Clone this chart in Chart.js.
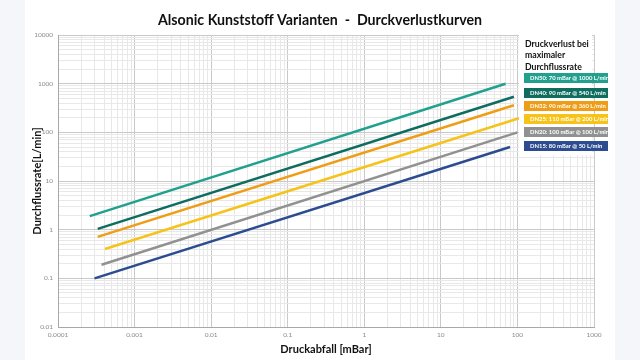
<!DOCTYPE html>
<html lang="de">
<head>
<meta charset="utf-8">
<script src="https://cdn.jsdelivr.net/npm/chart.js@4/dist/chart.umd.min.js"></script>
<style>
  body { margin: 0; background: #f4f6f9; }
  #rahmen { position: relative; width: 640px; height: 360px; }
  #legende {
    position: absolute; left: 519px; top: 35px; width: 73px; height: 120px;
    background: #fff; font-family: Lato, "Open Sans", sans-serif;
  }
  #legendeTitel {
    position: absolute; left: 6px; top: 3px; font-size: 8.7px; font-weight: bold;
    line-height: 11.3px; color: #111; white-space: nowrap;
  }
  .eintrag {
    position: absolute; left: 5px; width: 84px; height: 10px; color: #fff;
    font-size: 5.9px; font-weight: bold; line-height: 10px; padding-left: 6px;
    box-sizing: border-box; white-space: nowrap;
  }
</style>
</head>
<body>
<div id="rahmen">
  <canvas id="grafik" width="640" height="360"></canvas>
  <div id="legende">
    <div id="legendeTitel">Druckverlust bei<br>maximaler<br>Durchflussrate</div>
  </div>
</div>
<script>
const namen = ["DN50", "DN40", "DN32", "DN25", "DN20", "DN15"];
const farben = ["#22a08f", "#0f6d60", "#ef9d16", "#f6c31a", "#919191", "#2b4c8f"];

// Druckabfall [mBar] / Durchflussrate [L/min] am Anfang und Ende jeder Kurve
const startDruck = [0.00026, 0.00033, 0.00033, 0.00041, 0.00037, 0.0003];
const startFluss = [1.9, 1.04, 0.71, 0.4, 0.19, 0.1];
const endDruck = [70, 90, 90, 110, 100, 80];
const endFluss = [1000, 540, 360, 200, 100, 50];

const xTickLabels = ["0.0001", "0.001", "0.01", "0.1", "1", "10", "100", "1000"];
const yTickLabels = ["0.01", "0.1", "1", "10", "100", "1000", "10000"];

const eintragOben = [38, 53, 66, 79, 92, 106];

function gitterTicks(labels) {
  const ticks = [];
  const werte = labels.map(Number);
  werte.forEach((v, i) => {
    ticks.push({ value: v, major: true });
    if (i < werte.length - 1) {
      for (let m = 2; m <= 9; m++) {
        ticks.push({ value: Number((m * v).toPrecision(3)), major: false });
      }
    }
  });
  return ticks;
}

function tickText(labels) {
  return function(value) {
    const i = labels.findIndex(l => Math.abs(Math.log10(Number(l)) - Math.log10(value)) < 1e-6);
    return i >= 0 ? labels[i] : "";
  };
}

function gitterFarbe(c) {
  return c.tick && c.tick.major ? "#c9c9c9" : "#e8e8e8";
}

const hintergrund = {
  id: "hintergrund",
  beforeDraw(chart) {
    const ctx = chart.ctx;
    ctx.save();
    ctx.fillStyle = "#ffffff";
    ctx.fillRect(25, 0, 590, 360);
    ctx.restore();
  }
};

const tickFont = { family: "Lato, 'Open Sans', sans-serif", size: 6.5 };
const titelFont = { family: "Lato, 'Open Sans', sans-serif", size: 11, weight: "bold" };

new Chart(document.getElementById("grafik"), {
  type: "scatter",
  data: {
    datasets: namen.map((name, i) => ({
      label: name,
      data: [
        { x: startDruck[i], y: startFluss[i] },
        { x: endDruck[i], y: endFluss[i] }
      ],
      showLine: true,
      borderColor: farben[i],
      backgroundColor: farben[i],
      borderWidth: 2.5,
      pointRadius: 0,
      fill: false
    }))
  },
  options: {
    responsive: false,
    animation: false,
    layout: { padding: 0 },
    plugins: {
      legend: { display: false },
      tooltip: { enabled: false },
      title: {
        display: true,
        text: "Alsonic Kunststoff Varianten  -  Durckverlustkurven",
        color: "#111",
        font: { family: "Lato, 'Open Sans', sans-serif", size: 14.2, weight: "bold" },
        padding: { top: 11.5, bottom: 6.5 }
      }
    },
    scales: {
      x: {
        type: "logarithmic",
        min: 0.0001,
        max: 1000,
        afterBuildTicks: (s) => { s.ticks = gitterTicks(xTickLabels); },
        afterFit: (s) => { s.height = 33; },
        grid: { color: gitterFarbe, drawTicks: false },
        border: { color: "#a8a8a8" },
        ticks: {
          autoSkip: false, maxRotation: 0, padding: 4, color: "#8a8a8a",
          font: tickFont, callback: tickText(xTickLabels)
        },
        title: {
          display: true, text: "Druckabfall [mBar]", color: "#111",
          font: titelFont, padding: { top: 0, bottom: 4 }
        }
      },
      y: {
        type: "logarithmic",
        min: 0.01,
        max: 10000,
        afterBuildTicks: (s) => { s.ticks = gitterTicks(yTickLabels); },
        afterFit: (s) => { s.width = 58; },
        grid: { color: gitterFarbe, drawTicks: false },
        border: { color: "#a8a8a8" },
        ticks: {
          autoSkip: false, padding: 5, color: "#8a8a8a",
          font: tickFont, callback: tickText(yTickLabels)
        },
        title: {
          display: true, text: "Durchflussrate[L/min]", color: "#111",
          font: titelFont, padding: { top: 31, bottom: 0 }
        }
      },
      rechts: {
        type: "linear",
        position: "right",
        grid: { display: false },
        border: { display: false },
        ticks: { display: false },
        afterFit: (s) => { s.width = 46; }
      }
    }
  },
  plugins: [hintergrund]
});

const legende = document.getElementById("legende");
namen.forEach((name, i) => {
  const div = document.createElement("div");
  div.className = "eintrag";
  div.style.top = eintragOben[i] + "px";
  div.style.background = farben[i];
  div.textContent = `${name}: ${endDruck[i]} mBar @ ${endFluss[i]} L/min`;
  legende.appendChild(div);
});
</script>
</body>
</html>
